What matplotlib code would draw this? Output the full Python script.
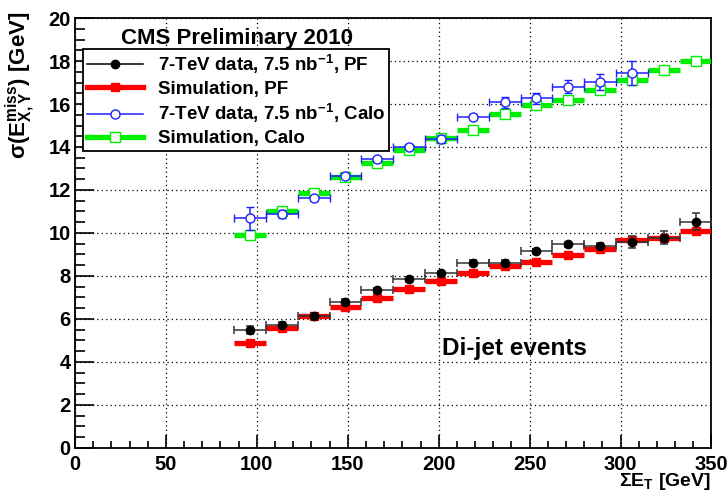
import numpy as np
import matplotlib
matplotlib.use("Agg")
import matplotlib.pyplot as plt
from matplotlib.lines import Line2D
from matplotlib.ticker import MultipleLocator

plt.rcParams['font.family'] = ['Liberation Sans', 'DejaVu Sans']
plt.rcParams['font.weight'] = 'bold'
plt.rcParams['mathtext.fontset'] = 'custom'
plt.rcParams['mathtext.rm'] = 'Liberation Sans:bold'
plt.rcParams['mathtext.bf'] = 'Liberation Sans:bold'
plt.rcParams['mathtext.it'] = 'Liberation Sans:bold'
plt.rcParams['mathtext.sf'] = 'Liberation Sans:bold'

# sum E_T bins (centres) and half width
sum_et = [96.25, 113.75, 131.25, 148.75, 166.25, 183.75, 201.25, 218.75,
          236.25, 253.75, 271.25, 288.75, 306.25, 323.75, 341.25]
half_bin = 8.75

data_pf = [5.49, 5.72, 6.15, 6.81, 7.33, 7.85, 8.12, 8.62, 8.62, 9.15,
           9.47, 9.40, 9.57, 9.78, 10.53]
data_pf_err = [0.20, 0.12, 0.12, 0.12, 0.12, 0.12, 0.12, 0.12, 0.12, 0.12,
               0.12, 0.12, 0.28, 0.30, 0.38]
sim_pf = [4.90, 5.60, 6.15, 6.57, 6.99, 7.41, 7.77, 8.12, 8.47, 8.67,
          8.98, 9.26, 9.67, 9.78, 10.11]

data_calo = [10.68, 10.87, 11.61, 12.67, 13.43, 14.02, 14.37, 15.41, 16.08,
             16.26, 16.81, 17.04, 17.46]
data_calo_err = [0.54, 0.18, 0.12, 0.12, 0.12, 0.12, 0.20, 0.12, 0.25,
                 0.25, 0.30, 0.37, 0.56]
sim_calo = [9.91, 11.00, 11.88, 12.62, 13.25, 13.85, 14.40, 14.79, 15.52,
            15.95, 16.19, 16.65, 17.12, 17.58, 18.01]

labels = [r'7-TeV data, 7.5 nb$^{\mathrm{-1}}$, PF',
          'Simulation, PF',
          r'7-TeV data, 7.5 nb$^{\mathrm{-1}}$, Calo',
          'Simulation, Calo']

green = '#00ee00'
blue = '#2020ff'

fig = plt.figure(figsize=(7.28, 4.96), dpi=100)
ax = fig.add_axes([0.103, 0.0968, 0.8743, 0.8669])

n_calo = len(data_calo)

# simulations first (drawn underneath)
ax.errorbar(sum_et, sim_calo, xerr=half_bin, fmt='s', color=green,
            mfc='white', mec=green, ms=7, mew=1.0, elinewidth=3.8,
            capsize=0, zorder=3)
ax.errorbar(sum_et, sim_pf, xerr=half_bin, fmt='s', color='red',
            ms=6, elinewidth=3.8, capsize=0, zorder=3)

# data
ax.errorbar(sum_et[:n_calo], data_calo, xerr=half_bin, yerr=data_calo_err,
            fmt='o', color=blue, mfc='white', mec=blue, ms=6.5, mew=1.0,
            elinewidth=1.1, capsize=3, capthick=1.1, zorder=4)
ax.errorbar(sum_et, data_pf, xerr=half_bin, yerr=data_pf_err, fmt='o',
            color='black', ecolor='#333333', ms=6, elinewidth=1.1,
            capsize=3, capthick=1.1, zorder=4)

ax.set_xlim(0, 350)
ax.set_ylim(0, 20)
ax.xaxis.set_major_locator(MultipleLocator(50))
ax.xaxis.set_minor_locator(MultipleLocator(10))
ax.yaxis.set_major_locator(MultipleLocator(2))
ax.yaxis.set_minor_locator(MultipleLocator(0.5))
ax.tick_params(axis='both', which='both', direction='in', top=False,
               right=False, labelsize=14.5, width=1.2)
ax.tick_params(axis='x', which='major', length=9.5, pad=5)
ax.tick_params(axis='x', which='minor', length=5)
ax.tick_params(axis='y', which='major', length=14, pad=3)
ax.tick_params(axis='y', which='minor', length=7)
for lab in ax.get_xticklabels() + ax.get_yticklabels():
    lab.set_fontweight('bold')
for sp in ax.spines.values():
    sp.set_linewidth(1.3)

ax.grid(True, which='major', color='black', linestyle=(0, (1, 2.5)), lw=0.9)
ax.set_axisbelow(True)

handles = [
    Line2D([], [], color='black', lw=1.1, marker='o', ms=6),
    Line2D([], [], color='red', lw=3.8, marker='s', ms=6),
    Line2D([], [], color=blue, lw=1.1, marker='o', ms=6.5, mfc='white'),
    Line2D([], [], color=green, lw=3.8, marker='s', ms=7, mfc='white'),
]
leg = ax.legend(handles, labels, loc='upper left',
                bbox_to_anchor=(0.0126, 0.928), fontsize=13.5,
                frameon=True, fancybox=False, framealpha=1,
                edgecolor='black', borderpad=0.2, labelspacing=0.25,
                handlelength=3.0, handletextpad=0.8, borderaxespad=0)
leg.get_frame().set_linewidth(1.3)

ax.text(0.254, 0.952, 'CMS Preliminary 2010', transform=ax.transAxes,
        ha='center', va='center', fontsize=16, fontweight='bold')
ax.text(0.691, 0.232, 'Di-jet events', transform=ax.transAxes,
        ha='center', va='center', fontsize=17.5, fontweight='bold')

fig.text(20 / 728, 1 - 12 / 496,
         r'σ($\mathrm{E}^{\mathrm{miss}}_{\mathrm{X,Y}}$) [GeV]',
         rotation=90, ha='center', va='top', fontsize=16, fontweight='bold')
fig.text(711 / 728, 1 - 482 / 496, r'ΣE$_{\mathrm{T}}$ [GeV]',
         ha='right', va='center', fontsize=14, fontweight='bold')

fig.savefig('out.png', dpi=100)
